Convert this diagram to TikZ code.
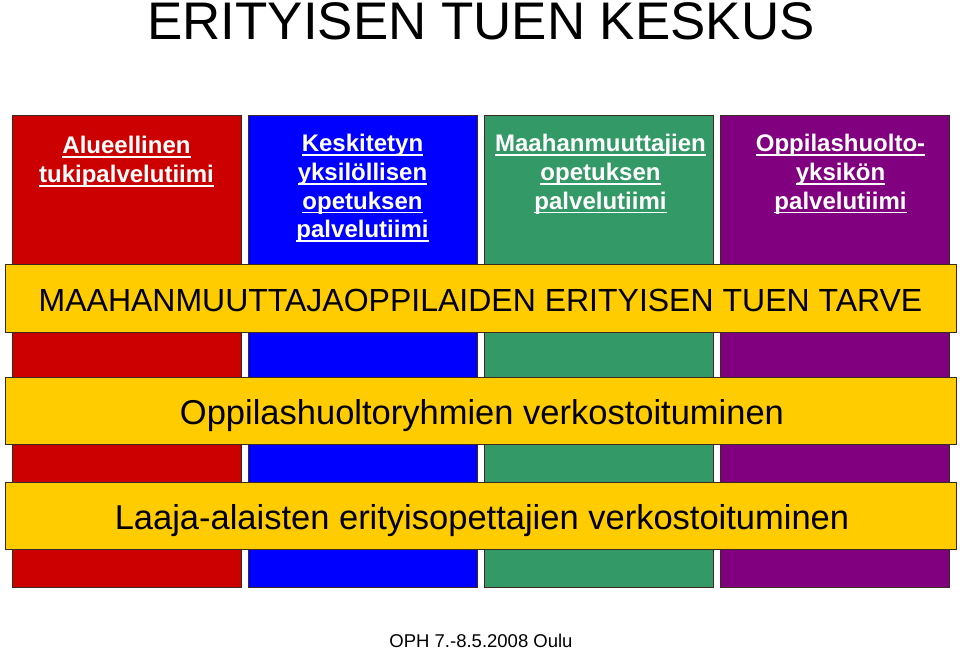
\documentclass[tikz,border=0pt]{standalone}
\usepackage{fontspec}
\setmainfont{Liberation Sans}
\definecolor{cred}{HTML}{CC0000}
\definecolor{cblue}{HTML}{0000FF}
\definecolor{cgreen}{HTML}{339966}
\definecolor{cpurple}{HTML}{800080}
\definecolor{cyellow}{HTML}{FFCC00}
\definecolor{edge}{HTML}{3A2A20}
\newcommand\myul[1]{\setbox0\hbox{#1}\rlap{\rule[-4.2pt]{\wd0}{1.7pt}}\box0}
\tikzset{
  column/.style={draw=edge, line width=0.9pt},
  band/.style={draw=edge, line width=0.9pt, fill=cyellow},
  coltext/.style={anchor=north, align=center, inner sep=0pt, text=white,
    font=\fontsize{24}{28.8}\selectfont\bfseries},
  bandtext/.style={anchor=base, inner sep=0pt, font=\fontsize{34.5}{40}\selectfont},
}
\begin{document}
\begin{tikzpicture}[x=1pt,y=-1pt]
\useasboundingbox (0,0) rectangle (960,650);
% columns
\draw[column, fill=cred] (12,115) rectangle (241,587);
\draw[column, fill=cblue] (248,115) rectangle (477,587);
\draw[column, fill=cgreen] (484,115) rectangle (713,587);
\draw[column, fill=cpurple] (720,115) rectangle (949,587);
% title
\node[anchor=base, inner sep=0pt, font=\fontsize{52.9}{60}\selectfont] (title) at (481,40) {ERITYISEN TUEN KESKUS};
% column labels
\node[coltext] (t1) at (126.5,136) {\myul{Alueellinen}\\\myul{tukipalvelutiimi}};
\node[coltext] (t2) at (362.5,134) {\myul{Keskitetyn}\\\myul{yksilöllisen}\\\myul{opetuksen}\\\myul{palvelutiimi}};
\node[coltext] (t3) at (600.5,134) {\myul{Maahanmuuttajien}\\\myul{opetuksen}\\\myul{palvelutiimi}};
\node[coltext] (t4) at (840.5,134) {\myul{Oppilashuolto-}\\\myul{yksikön}\\\myul{palvelutiimi}};
% bands
\draw[band] (5,264) rectangle (956,332);
\draw[band] (5,377) rectangle (956,444);
\draw[band] (5,482) rectangle (956,549);
\node[bandtext, font=\fontsize{32}{38}\selectfont] (b1) at (480.5,311) {MAAHANMUUTTAJAOPPILAIDEN ERITYISEN TUEN TARVE};
\node[bandtext] (b2) at (482,424) {Oppilashuoltoryhmien verkostoituminen};
\node[bandtext] (b3) at (482,529) {Laaja-alaisten erityisopettajien verkostoituminen};
% footer
\node[anchor=base, inner sep=0pt, font=\fontsize{18.5}{22}\selectfont] (foot) at (481,647) {OPH 7.-8.5.2008 Oulu};
\end{tikzpicture}
\end{document}
